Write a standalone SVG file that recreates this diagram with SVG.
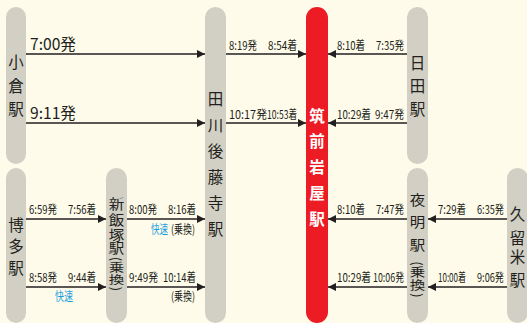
<svg xmlns="http://www.w3.org/2000/svg" width="527" height="323" viewBox="0 0 527 323">
<defs>
<style>
.bg{fill:#FEFBEA}
.pill{fill:#D2D0C4}
.red{fill:#ED1C24}
.st{font-family:"Noto Sans CJK JP","Noto Sans",sans-serif;font-size:15.5px;fill:#231F20;text-anchor:middle}
.pa{font-family:"Noto Sans CJK JP","Noto Sans",sans-serif;font-size:13px;fill:#231F20;text-anchor:middle;dominant-baseline:central}
.stw{font-family:"Noto Sans CJK JP","Noto Sans",sans-serif;font-size:15.5px;fill:#FFFFFF;font-weight:bold;text-anchor:middle}
.big{font-family:"Noto Sans CJK JP","Noto Sans",sans-serif;font-size:15.5px;fill:#231F20}
.t{font-family:"Noto Sans CJK JP","Noto Sans",sans-serif;font-size:12px;fill:#231F20}
.b{font-family:"Noto Sans CJK JP","Noto Sans",sans-serif;font-size:12px;fill:#1AA0E0}
.ln{stroke:#231F20;stroke-width:1.6;fill:none;marker-end:url(#ah)}
</style>
<marker id="ah" viewBox="0 0 10 10" refX="10" refY="5" markerWidth="9" markerHeight="8" orient="auto" markerUnits="userSpaceOnUse">
<path d="M0,0 L10,5 L0,10 z" fill="#231F20"/>
</marker>
</defs>
<rect class="bg" x="0" y="0" width="527" height="323"/>

<g id="kokura">
<rect class="pill" x="6" y="7" width="20" height="157" rx="10"/>
<text class="st" x="16" y="68">小</text>
<text class="st" x="16" y="92">倉</text>
<text class="st" x="16" y="115">駅</text>
</g>
<g id="hakata">
<rect class="pill" x="6" y="168" width="20" height="155" rx="10"/>
<text class="st" x="16" y="231">博</text>
<text class="st" x="16" y="252">多</text>
<text class="st" x="16" y="274">駅</text>
</g>
<g id="shiniizuka">
<rect class="pill" x="106" y="168" width="21" height="155" rx="10.5"/>
<text class="st" transform="translate(116.5,209) scale(1,0.85)">新</text>
<text class="st" transform="translate(116.5,225) scale(1,0.85)">飯</text>
<text class="st" transform="translate(116.5,240) scale(1,0.85)">塚</text>
<text class="st" transform="translate(116.5,252.5) scale(1,0.85)">駅</text>
<text class="pa" transform="translate(116.5,259) rotate(90)">(</text>
<text class="st" transform="translate(116.5,272) scale(1,0.75)">乗</text>
<text class="st" transform="translate(116.5,283.5) scale(1,0.75)">換</text>
<text class="pa" transform="translate(116.5,289) rotate(90)">)</text>
</g>
<g id="tagawagotoji">
<rect class="pill" x="205" y="7" width="21" height="316" rx="10.5"/>
<text class="st" x="215.5" y="105">田</text>
<text class="st" x="215.5" y="131">川</text>
<text class="st" x="215.5" y="157">後</text>
<text class="st" x="215.5" y="183">藤</text>
<text class="st" x="215.5" y="209">寺</text>
<text class="st" x="215.5" y="235">駅</text>
</g>
<g id="chikuzeniwaya">
<rect class="red" x="306" y="7" width="22" height="316" rx="11"/>
<text class="stw" x="317" y="122">筑</text>
<text class="stw" x="317" y="147">前</text>
<text class="stw" x="317" y="173">岩</text>
<text class="stw" x="317" y="199">屋</text>
<text class="stw" x="317" y="225">駅</text>
</g>
<g id="hita">
<rect class="pill" x="407" y="7" width="21" height="157" rx="10.5"/>
<text class="st" x="417.5" y="69">日</text>
<text class="st" x="417.5" y="92">田</text>
<text class="st" x="417.5" y="115">駅</text>
</g>
<g id="yoake">
<rect class="pill" x="407" y="168" width="21" height="155" rx="10.5"/>
<text class="st" transform="translate(417.5,205) scale(1,0.9)">夜</text>
<text class="st" transform="translate(417.5,227) scale(1,0.9)">明</text>
<text class="st" transform="translate(417.5,250) scale(1,0.9)">駅</text>
<text class="pa" transform="translate(417.5,263.5) rotate(90)">(</text>
<text class="st" transform="translate(417.5,277) scale(1,0.8)">乗</text>
<text class="st" transform="translate(417.5,290) scale(1,0.8)">換</text>
<text class="pa" transform="translate(417.5,295.5) rotate(90)">)</text>
</g>
<g id="kurume">
<rect class="pill" x="507" y="168" width="21" height="155" rx="10.5"/>
<text class="st" x="517.5" y="220">久</text>
<text class="st" x="517.5" y="244">留</text>
<text class="st" x="517.5" y="263">米</text>
<text class="st" x="517.5" y="286">駅</text>
</g>

<g id="connectors">
<line class="ln" x1="26" y1="54" x2="205" y2="54"/>
<line class="ln" x1="26" y1="123" x2="205" y2="123"/>
<line class="ln" x1="226" y1="54" x2="306" y2="54"/>
<line class="ln" x1="226" y1="123" x2="306" y2="123"/>
<line class="ln" x1="407" y1="54" x2="328" y2="54"/>
<line class="ln" x1="407" y1="123" x2="328" y2="123"/>
<line class="ln" x1="26" y1="219" x2="106" y2="219"/>
<line class="ln" x1="26" y1="287" x2="106" y2="287"/>
<line class="ln" x1="127" y1="219" x2="205" y2="219"/>
<line class="ln" x1="127" y1="287" x2="205" y2="287"/>
<line class="ln" x1="407" y1="219" x2="328" y2="219"/>
<line class="ln" x1="407" y1="287" x2="328" y2="287"/>
<line class="ln" x1="507" y1="219" x2="428" y2="219"/>
<line class="ln" x1="507" y1="287" x2="428" y2="287"/>
</g>

<g id="labels">
<text class="big" x="30" y="50" textLength="46" lengthAdjust="spacingAndGlyphs">7:00発</text>
<text class="big" x="30" y="119" textLength="46" lengthAdjust="spacingAndGlyphs">9:11発</text>

<text class="t" x="229" y="50" textLength="28" lengthAdjust="spacingAndGlyphs">8:19発</text>
<text class="t" x="268" y="50" textLength="29" lengthAdjust="spacingAndGlyphs">8:54着</text>
<text class="t" x="229" y="119" textLength="38" lengthAdjust="spacingAndGlyphs">10:17発</text>
<text class="t" x="267" y="119" textLength="30" lengthAdjust="spacingAndGlyphs">10:53着</text>

<text class="t" x="337" y="50" textLength="28" lengthAdjust="spacingAndGlyphs">8:10着</text>
<text class="t" x="376" y="50" textLength="28" lengthAdjust="spacingAndGlyphs">7:35発</text>
<text class="t" x="337" y="119" textLength="34" lengthAdjust="spacingAndGlyphs">10:29着</text>
<text class="t" x="375" y="119" textLength="29" lengthAdjust="spacingAndGlyphs">9:47発</text>

<text class="t" x="29" y="214" textLength="28" lengthAdjust="spacingAndGlyphs">6:59発</text>
<text class="t" x="68" y="214" textLength="28" lengthAdjust="spacingAndGlyphs">7:56着</text>
<text class="t" x="29" y="282" textLength="28" lengthAdjust="spacingAndGlyphs">8:58発</text>
<text class="t" x="68" y="282" textLength="28" lengthAdjust="spacingAndGlyphs">9:44着</text>
<text class="b" x="55" y="301" textLength="18" lengthAdjust="spacingAndGlyphs">快速</text>

<text class="t" x="129" y="214" textLength="28" lengthAdjust="spacingAndGlyphs">8:00発</text>
<text class="t" x="168" y="214" textLength="28" lengthAdjust="spacingAndGlyphs">8:16着</text>
<text class="b" x="151" y="234" textLength="17" lengthAdjust="spacingAndGlyphs">快速</text>
<text class="t" x="171" y="234" textLength="24" lengthAdjust="spacingAndGlyphs">(乗換)</text>
<text class="t" x="129" y="282" textLength="29" lengthAdjust="spacingAndGlyphs">9:49発</text>
<text class="t" x="163" y="282" textLength="33" lengthAdjust="spacingAndGlyphs">10:14着</text>
<text class="t" x="171" y="301" textLength="24" lengthAdjust="spacingAndGlyphs">(乗換)</text>

<text class="t" x="337" y="214" textLength="28" lengthAdjust="spacingAndGlyphs">8:10着</text>
<text class="t" x="376" y="214" textLength="28" lengthAdjust="spacingAndGlyphs">7:47発</text>
<text class="t" x="337" y="282" textLength="34" lengthAdjust="spacingAndGlyphs">10:29着</text>
<text class="t" x="373" y="282" textLength="31" lengthAdjust="spacingAndGlyphs">10:06発</text>

<text class="t" x="438" y="214" textLength="28" lengthAdjust="spacingAndGlyphs">7:29着</text>
<text class="t" x="477" y="214" textLength="27" lengthAdjust="spacingAndGlyphs">6:35発</text>
<text class="t" x="438" y="282" textLength="28" lengthAdjust="spacingAndGlyphs">10:00着</text>
<text class="t" x="477" y="282" textLength="27" lengthAdjust="spacingAndGlyphs">9:06発</text>
</g>
</svg>
